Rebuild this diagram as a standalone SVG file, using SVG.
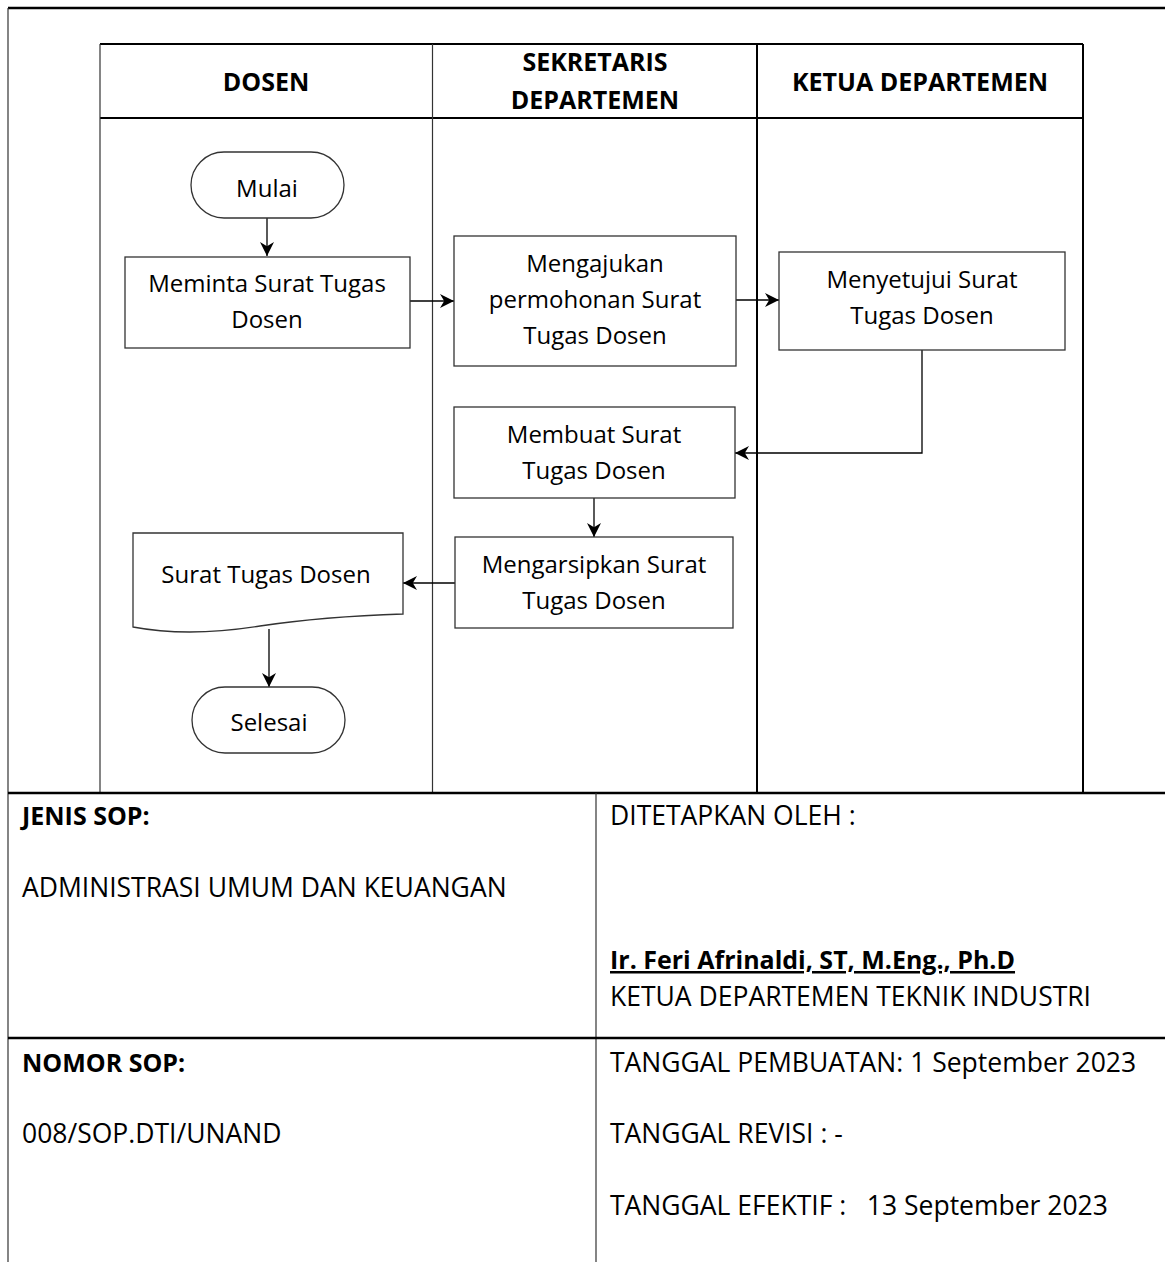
<svg xmlns="http://www.w3.org/2000/svg" width="1165" height="1262" viewBox="0 0 1165 1262">
<style>
.t{font-family:"Open Sans","Noto Sans","Liberation Sans",sans-serif;font-size:24px;fill:#000;text-anchor:middle}
.h{font-family:"Open Sans","Noto Sans","Liberation Sans",sans-serif;font-size:25px;font-weight:bold;fill:#000;text-anchor:middle}
.b{font-family:"Open Sans","Noto Sans","Liberation Sans",sans-serif;font-size:26.5px;fill:#000}
.bb{font-weight:bold;font-size:25px}
.shape{fill:#fff;stroke:#333;stroke-width:1.3}
.conn{fill:none;stroke:#000;stroke-width:1.3}
.thick{stroke:#000;stroke-width:2.5}
.med{stroke:#000;stroke-width:2}
.thin{stroke:#333;stroke-width:1.2}
</style>
<defs>
<marker id="arr" viewBox="0 0 10 10" refX="10" refY="5" markerWidth="14" markerHeight="14" markerUnits="userSpaceOnUse" orient="auto">
<path d="M0,0 L10,5 L0,10 L3,5 z" fill="#000"/>
</marker>
</defs>
<rect width="1165" height="1262" fill="#fff"/>
<g id="frame">
<line x1="8" y1="8" x2="1165" y2="8" class="thick"/>
<line x1="8" y1="8" x2="8" y2="1262" class="thin"/>
<line x1="100" y1="44" x2="1083" y2="44" class="med"/>
<line x1="100" y1="118" x2="1083" y2="118" class="med"/>
<line x1="100" y1="44" x2="100" y2="793" class="thin"/>
<line x1="432.5" y1="44" x2="432.5" y2="793" class="thin"/>
<line x1="757" y1="44" x2="757" y2="793" class="med"/>
<line x1="1083" y1="44" x2="1083" y2="793" class="med"/>
<line x1="8" y1="793" x2="1165" y2="793" class="thick"/>
<line x1="596" y1="793" x2="596" y2="1262" class="thin"/>
<line x1="8" y1="1038" x2="1165" y2="1038" class="thick"/>
</g>
<g id="lane-headers">
<text class="h" x="266" y="91">DOSEN</text>
<text class="h" x="595" y="71">SEKRETARIS</text>
<text class="h" x="595" y="109">DEPARTEMEN</text>
<text class="h" x="920" y="91">KETUA DEPARTEMEN</text>
</g>
<g id="connectors">
<line x1="267" y1="218" x2="267" y2="256" class="conn" marker-end="url(#arr)"/>
<line x1="410" y1="301" x2="454" y2="301" class="conn" marker-end="url(#arr)"/>
<line x1="736" y1="300" x2="779" y2="300" class="conn" marker-end="url(#arr)"/>
<polyline points="922,350 922,453 735,453" class="conn" marker-end="url(#arr)"/>
<line x1="594" y1="498" x2="594" y2="537" class="conn" marker-end="url(#arr)"/>
<line x1="455" y1="583" x2="403" y2="583" class="conn" marker-end="url(#arr)"/>
<line x1="269" y1="629" x2="269" y2="687" class="conn" marker-end="url(#arr)"/>
</g>
<g id="mulai">
<rect class="shape" x="191" y="152" width="153" height="66" rx="33" ry="33"/>
<text class="t" x="267" y="197">Mulai</text>
</g>
<g id="meminta">
<rect class="shape" x="125" y="257" width="285" height="91"/>
<text class="t" x="267" y="292">Meminta Surat Tugas</text>
<text class="t" x="267" y="328">Dosen</text>
</g>
<g id="mengajukan">
<rect class="shape" x="454" y="236" width="282" height="130"/>
<text class="t" x="595" y="272">Mengajukan</text>
<text class="t" x="595" y="308">permohonan Surat</text>
<text class="t" x="595" y="344">Tugas Dosen</text>
</g>
<g id="menyetujui">
<rect class="shape" x="779" y="252" width="286" height="98"/>
<text class="t" x="922" y="288">Menyetujui Surat</text>
<text class="t" x="922" y="324">Tugas Dosen</text>
</g>
<g id="membuat">
<rect class="shape" x="454" y="407" width="281" height="91"/>
<text class="t" x="594" y="443">Membuat Surat</text>
<text class="t" x="594" y="479">Tugas Dosen</text>
</g>
<g id="mengarsipkan">
<rect class="shape" x="455" y="537" width="278" height="91"/>
<text class="t" x="594" y="573">Mengarsipkan Surat</text>
<text class="t" x="594" y="609">Tugas Dosen</text>
</g>
<g id="surat-tugas-dosen">
<path class="shape" d="M133,533 L403,533 L403,614 C340,616 300,620 260,626 C210,634 170,634 133,627 Z"/>
<text class="t" x="266" y="583">Surat Tugas Dosen</text>
</g>
<g id="selesai">
<rect class="shape" x="192" y="687" width="153" height="66" rx="33" ry="33"/>
<text class="t" x="269" y="731">Selesai</text>
</g>
<g id="info-table">
<text class="b bb" x="22" y="825">JENIS SOP:</text>
<text class="b" x="22" y="897">ADMINISTRASI UMUM DAN KEUANGAN</text>
<text class="b" x="610" y="825">DITETAPKAN OLEH :</text>
<text class="b bb" x="610" y="969" text-decoration="underline">Ir. Feri Afrinaldi, ST, M.Eng., Ph.D</text>
<text class="b" x="610" y="1006">KETUA DEPARTEMEN TEKNIK INDUSTRI</text>
<text class="b bb" x="22" y="1072">NOMOR SOP:</text>
<text class="b" x="22" y="1143">008/SOP.DTI/UNAND</text>
<text class="b" x="610" y="1072">TANGGAL PEMBUATAN: 1 September 2023</text>
<text class="b" x="610" y="1143">TANGGAL REVISI : -</text>
<text class="b" x="610" y="1215" xml:space="preserve">TANGGAL EFEKTIF :   13 September 2023</text>
</g>
</svg>
